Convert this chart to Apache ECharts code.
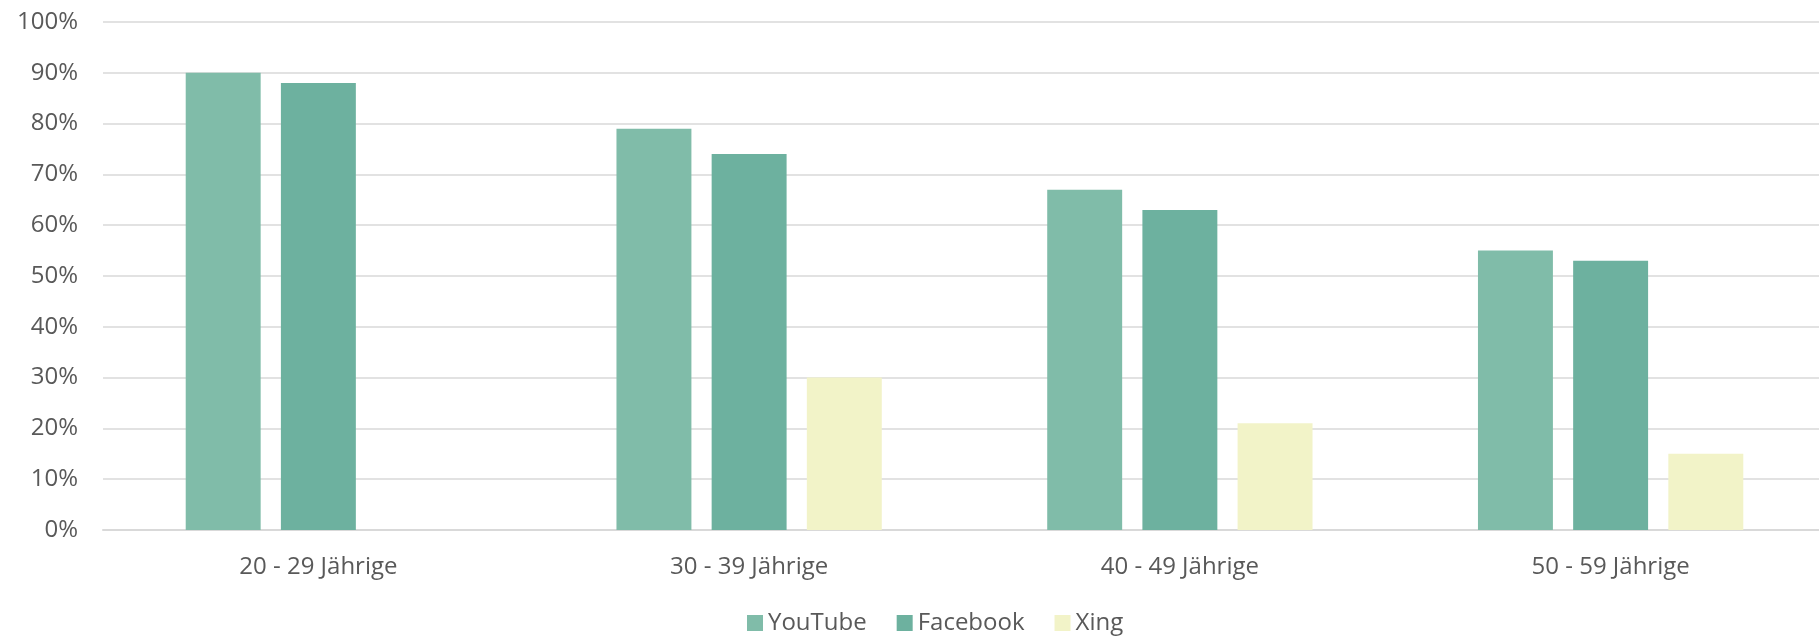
<!DOCTYPE html>
<html>
<head>
<meta charset="utf-8">
<script src="https://cdn.jsdelivr.net/npm/echarts@6/dist/echarts.min.js"></script>
<style>
  html, body { margin: 0; padding: 0; background: #fff; }
  #chart { width: 1819px; height: 638px; }
</style>
</head>
<body>
<div id="chart"></div>
<script>
var categories = ['20 - 29 Jährige', '30 - 39 Jährige', '40 - 49 Jährige', '50 - 59 Jährige'];
var youtube = [90, 79, 67, 55];
var facebook = [88, 74, 63, 53];
var xing = [null, 30, 21, 15];
var yTicks = [0, 10, 20, 30, 40, 50, 60, 70, 80, 90, 100];

var textColor = '#595959';
var font = '"Open Sans", Lato, sans-serif';

var chart = echarts.init(document.getElementById('chart'));

function bar(name, data, color) {
	return {
		name: name,
		type: 'bar',
		data: data,
		barWidth: '17.4%',
		barGap: '27%',
		itemStyle: { color: color },
		emphasis: { disabled: true }
	};
}

var option = {
	animation: false,
	textStyle: { fontFamily: font },
	// plot runs slightly past the right edge in the original
	grid: { left: 103, width: 1723, top: 22, bottom: 108, outerBoundsMode: 'none' },
	legend: {
		bottom: -2,
		left: 742,
		itemWidth: 16,
		itemHeight: 16,
		itemGap: 30,
		icon: 'rect',
		textStyle: { color: textColor, fontSize: 24, fontFamily: font }
	},
	xAxis: {
		type: 'category',
		data: categories,
		axisLine: { lineStyle: { color: '#D9D9D9', width: 2 } },
		axisTick: { show: false },
		axisLabel: { color: textColor, fontSize: 24, margin: 25 }
	},
	yAxis: {
		type: 'value',
		min: yTicks[0],
		max: yTicks[yTicks.length - 1],
		interval: 10,
		axisLine: { show: false },
		axisTick: { show: false },
		splitLine: { lineStyle: { color: '#D9D9D9', width: 1.5 } },
		axisLabel: {
			color: textColor,
			fontSize: 24,
			margin: 25,
			formatter: function (v) { return v + '%'; }
		}
	},
	series: [
		bar('YouTube', youtube, '#80BCA9'),
		bar('Facebook', facebook, '#6DB19F'),
		bar('Xing', xing, '#F2F3C8')
	]
};

chart.setOption(option);
</script>
</body>
</html>
